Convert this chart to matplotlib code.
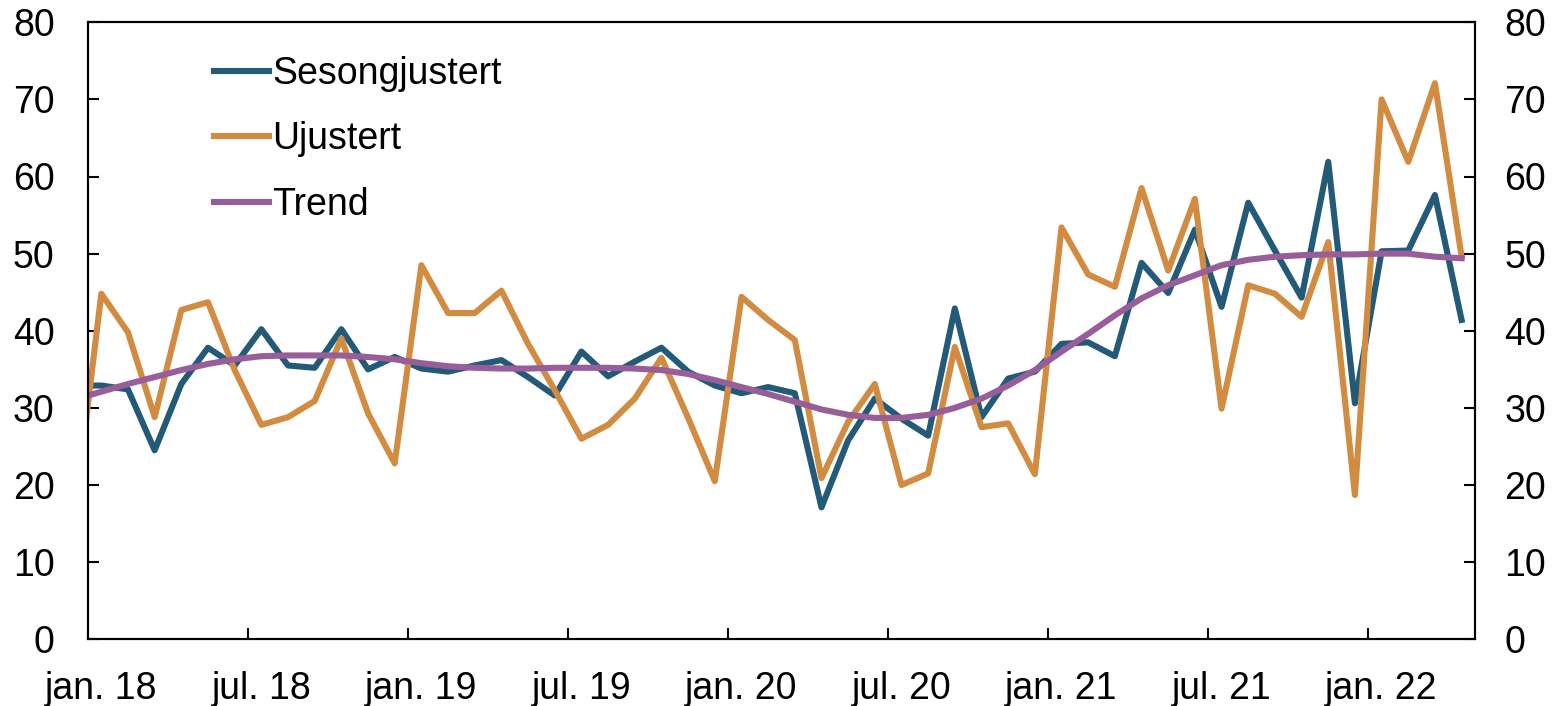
import numpy as np
import matplotlib.pyplot as plt

plt.rcParams['font.family'] = ['Liberation Sans', 'DejaVu Sans']

# months from des. 17 (index -1, only the run-in from the left edge is visible) to apr. 22
x_index = np.arange(-1, 52)

sesongjustert = [32.9, 32.9, 32.4, 24.5, 33.1, 37.8, 35.5, 40.2, 35.5, 35.2,
                 40.2, 35.0, 36.6, 35.1, 34.7, 35.5, 36.2, 34.0, 31.6, 37.3,
                 34.1, 36.0, 37.8, 34.7, 32.9, 31.9, 32.7, 31.9, 17.1, 25.8,
                 31.2, 28.6, 26.4, 42.9, 28.8, 33.8, 34.7, 38.3, 38.5, 36.7,
                 48.8, 44.9, 53.1, 43.1, 56.6, 50.4, 44.3, 61.9, 30.6, 50.3,
                 50.4, 57.6, 41.4]

ujustert = [16.2, 44.8, 39.8, 28.8, 42.7, 43.7, 34.9, 27.8, 28.8, 30.9,
            39.0, 29.3, 22.8, 48.5, 42.3, 42.3, 45.2, 38.3, 32.3, 26.0,
            27.8, 31.2, 36.5, 28.7, 20.5, 44.4, 41.4, 38.8, 20.9, 28.2,
            33.1, 20.0, 21.5, 37.9, 27.5, 28.0, 21.4, 53.4, 47.3, 45.7,
            58.5, 47.8, 57.1, 29.9, 45.9, 44.8, 41.8, 51.5, 18.7, 70.0,
            61.9, 72.1, 49.6]

trend = [31.1, 32.1, 33.1, 34.0, 34.9, 35.7, 36.3, 36.7, 36.8, 36.8,
         36.8, 36.6, 36.3, 35.8, 35.4, 35.2, 35.1, 35.1, 35.2, 35.2,
         35.2, 35.1, 34.9, 34.4, 33.6, 32.7, 31.8, 30.8, 29.8, 29.1,
         28.7, 28.7, 29.1, 30.0, 31.2, 32.9, 34.9, 37.3, 39.6, 42.0,
         44.2, 45.9, 47.2, 48.5, 49.2, 49.6, 49.8, 49.9, 49.9, 50.0,
         50.0, 49.6, 49.4]

tick_labels = ['jan. 18', 'jul. 18', 'jan. 19', 'jul. 19', 'jan. 20',
               'jul. 20', 'jan. 21', 'jul. 21', 'jan. 22']
label_pos = np.arange(0, 49, 6)

blue = '#225a78'
orange = '#d28c42'
purple = '#985e99'
fs = 27

fig = plt.figure(figsize=(15.57, 7.06), dpi=100)
ax = fig.add_axes([0.0565, 0.0945, 0.8908, 0.874])

lw = 4.4
ax.plot(x_index, sesongjustert, color=blue, lw=lw, label='Sesongjustert')
ax.plot(x_index, ujustert, color=orange, lw=lw, label='Ujustert')
ax.plot(x_index, trend, color=purple, lw=lw, label='Trend')

ax.set_xlim(-0.5, 51.5)
ax.set_ylim(0, 80)
ax.set_yticks(np.arange(0, 81, 10))

ax.set_xticks(label_pos)
ax.set_xticklabels(tick_labels, fontsize=fs)
ax.set_xticks(np.arange(5.5, 51, 6), minor=True)
ax.tick_params(axis='x', which='major', length=0, pad=23)
ax.tick_params(axis='x', which='minor', direction='in', length=8, width=1.5)
ax.tick_params(axis='y', direction='in', length=8, width=1.5, labelsize=fs, pad=24)

ax2 = ax.twinx()
ax2.set_ylim(0, 80)
ax2.set_yticks(np.arange(0, 81, 10))
ax2.tick_params(axis='y', direction='in', length=8, width=1.5, labelsize=fs, pad=21)

for a in (ax, ax2):
    for s in a.spines.values():
        s.set_linewidth(1.5)
        s.set_color('black')

ax.legend(loc='upper left', bbox_to_anchor=(0.091, 0.945), frameon=False,
          fontsize=fs, handlelength=1.45, handletextpad=0.1,
          labelspacing=0.78, borderpad=0, borderaxespad=0)

fig.savefig('out.png', dpi=100)
